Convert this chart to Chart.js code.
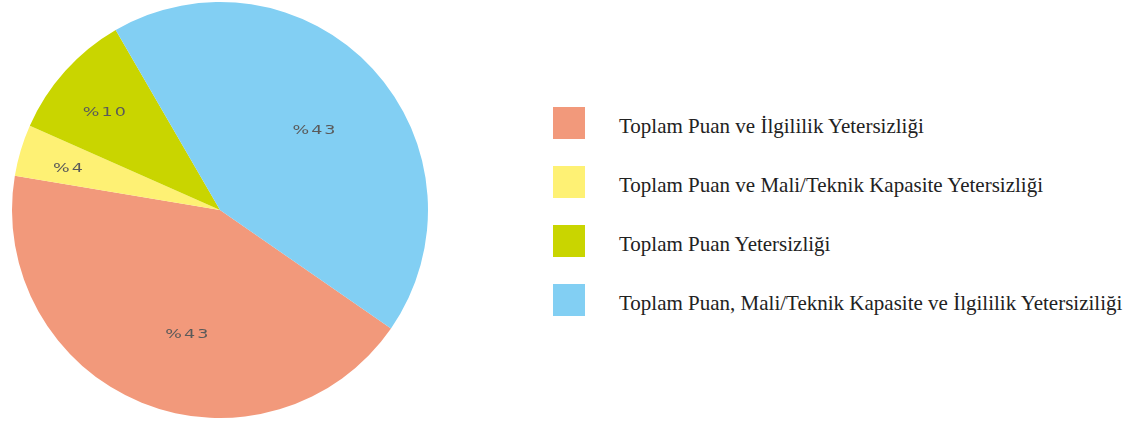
<!DOCTYPE html>
<html>
<head>
<meta charset="utf-8">
<script src="https://cdn.jsdelivr.net/npm/chart.js@4"></script>
<style>
    html, body { margin: 0; padding: 0; background: #ffffff; }
    body { width: 1125px; height: 426px; position: relative; overflow: hidden; }
    #pieWrap { position: absolute; left: 0; top: 0; width: 440px; height: 420px; }
    #legend { position: absolute; left: 553px; top: 107px; }
    .legend-row { position: relative; height: 59px; }
    .legend-box { position: absolute; left: 0; top: 0; width: 32px; height: 32px; }
    .legend-text {
        position: absolute; left: 66px; top: 0; white-space: nowrap;
        font-family: 'Liberation Serif', 'DejaVu Serif', serif;
        font-size: 21px; line-height: 38px; color: #222222;
    }
</style>
</head>
<body>
<div id="pieWrap"><canvas id="pieChart"></canvas></div>
<div id="legend"></div>
<script>
// pie data, legend order
const categories = [
    'Toplam Puan ve İlgililik Yetersizliği',
    'Toplam Puan ve Mali/Teknik Kapasite Yetersizliği',
    'Toplam Puan Yetersizliği',
    'Toplam Puan, Mali/Teknik Kapasite ve İlgililik Yetersiziliği'
];
const shares = [43, 4, 10, 43];
const sliceLabels = ['%43', '%4', '%10', '%43'];
const colors = ['#F2997B', '#FEF174', '#C9D500', '#82CFF3'];

// where each label sits inside its slice (fraction of radius, fraction along the arc)
const labelRadius = [0.61, 0.76, 0.735, 0.6];
const labelAlong = [0.455, 0.45, 0.47, 0.51];

const sliceLabelPlugin = {
    id: 'sliceLabels',
    afterDatasetsDraw(chart) {
        const ctx = chart.ctx;
        const arcs = chart.getDatasetMeta(0).data;
        arcs.forEach((arc, i) => {
            const p = arc.getProps(['x', 'y', 'startAngle', 'endAngle', 'outerRadius']);
            const a = p.startAngle + (p.endAngle - p.startAngle) * labelAlong[i];
            const r = p.outerRadius * labelRadius[i];
            ctx.save();
            ctx.translate(p.x + Math.cos(a) * r + 1, p.y + Math.sin(a) * r + 2.5);
            ctx.scale(1.35, 1); // the original font is a wide one
            ctx.font = '13px "DejaVu Sans", sans-serif';
            ctx.letterSpacing = '1.5px';
            ctx.fillStyle = '#5a5a5a';
            ctx.textAlign = 'center';
            ctx.textBaseline = 'middle';
            ctx.fillText(sliceLabels[i], 0, 0);
            ctx.restore();
        });
    }
};

new Chart(document.getElementById('pieChart'), {
    type: 'pie',
    data: {
        labels: categories,
        datasets: [{
            data: shares,
            backgroundColor: colors,
            borderWidth: 0
        }]
    },
    options: {
        responsive: true,
        maintainAspectRatio: false,
        animation: false,
        rotation: 124.7,
        layout: { padding: 2 },
        plugins: {
            legend: { display: false },
            tooltip: { enabled: false }
        }
    },
    plugins: [sliceLabelPlugin]
});

// legend on the right
const legendEl = document.getElementById('legend');
categories.forEach((cat, i) => {
    const row = document.createElement('div');
    row.className = 'legend-row';
    row.innerHTML = `
        <div class="legend-box" style="background:${colors[i]}"></div>
        <div class="legend-text">${cat}</div>
    `;
    legendEl.appendChild(row);
});
</script>
</body>
</html>
